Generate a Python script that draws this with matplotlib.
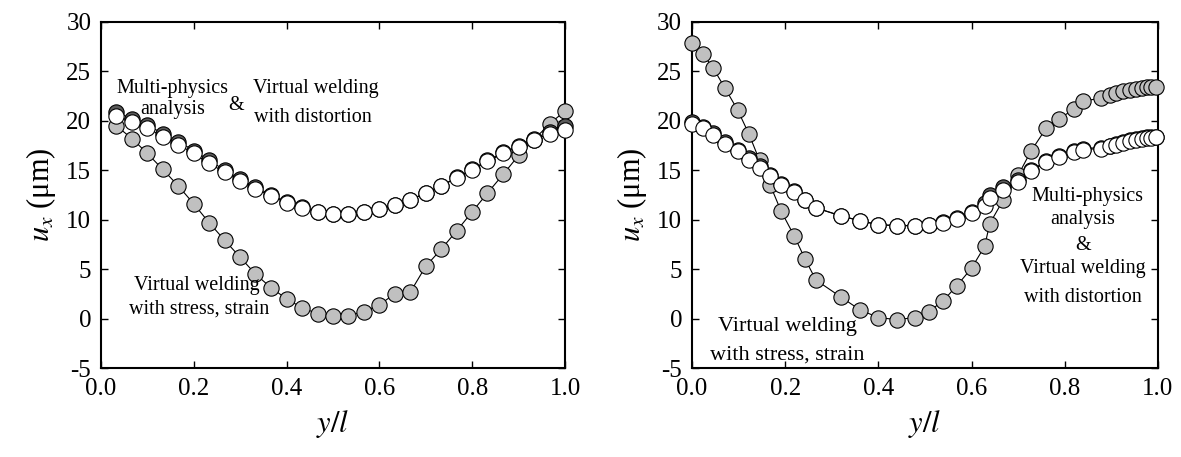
import matplotlib
matplotlib.use('Agg')
import matplotlib.pyplot as plt
from matplotlib.ticker import MultipleLocator, FormatStrFormatter

plt.rcParams['font.family'] = ['Liberation Serif', 'DejaVu Serif']
plt.rcParams['mathtext.fontset'] = 'stix'
plt.rcParams['axes.unicode_minus'] = False

# ---- left panel data (y/l, u_x in um)
left_x = [0.033, 0.067, 0.100, 0.133, 0.167, 0.200, 0.233, 0.267, 0.300, 0.333,
          0.367, 0.400, 0.433, 0.467, 0.500, 0.533, 0.567, 0.600, 0.633, 0.667,
          0.700, 0.733, 0.767, 0.800, 0.833, 0.867, 0.900, 0.933, 0.967, 1.000]
left_stress = [19.5, 18.2, 16.7, 15.1, 13.4, 11.6, 9.7, 7.9, 6.2, 4.5,
               3.1, 2.0, 1.1, 0.5, 0.3, 0.3, 0.7, 1.4, 2.5, 2.7,
               5.3, 7.0, 8.9, 10.8, 12.7, 14.6, 16.5, 18.1, 19.7, 21.0]
left_multi = [20.9, 20.2, 19.6, 18.7, 17.9, 17.0, 16.0, 15.0, 14.1, 13.3,
              12.5, 11.8, 11.3, 10.8, 10.6, 10.6, 10.8, 11.1, 11.5, 12.0,
              12.7, 13.4, 14.3, 15.1, 16.0, 16.8, 17.5, 18.2, 18.9, 19.5]
left_distort = [20.5, 19.9, 19.3, 18.4, 17.6, 16.7, 15.7, 14.8, 13.9, 13.1,
                12.4, 11.7, 11.2, 10.8, 10.6, 10.6, 10.8, 11.05, 11.5, 12.0,
                12.7, 13.4, 14.25, 15.0, 15.9, 16.7, 17.4, 18.1, 18.7, 19.1]

# ---- right panel data
right_x = [0.000, 0.023, 0.046, 0.071, 0.098, 0.122, 0.145, 0.168, 0.191, 0.219,
           0.243, 0.266, 0.319, 0.360, 0.400, 0.439, 0.479, 0.508, 0.539, 0.568,
           0.600, 0.628, 0.639, 0.668, 0.700, 0.727, 0.760, 0.788, 0.820, 0.840,
           0.878, 0.898, 0.911, 0.926, 0.940, 0.953, 0.965, 0.977, 0.986, 0.995]
right_stress = [27.9, 26.8, 25.3, 23.3, 21.1, 18.7, 16.0, 13.5, 10.9, 8.4,
                6.0, 3.9, 2.2, 0.9, 0.1, -0.1, 0.1, 0.7, 1.8, 3.3,
                5.1, 7.3, 9.6, 12.0, 14.5, 16.9, 19.25, 20.2, 21.2, 22.0,
                22.3, 22.6, 22.85, 23.0, 23.1, 23.2, 23.3, 23.4, 23.45, 23.45]
right_multi = [19.9, 19.4, 18.8, 17.9, 17.1, 16.2, 15.4, 14.5, 13.6, 12.9,
               12.0, 11.2, 10.4, 9.9, 9.5, 9.4, 9.4, 9.5, 9.8, 10.2,
               10.8, 11.7, 12.5, 13.3, 14.0, 15.0, 15.9, 16.4, 16.9, 17.2,
               17.3, 17.5, 17.7, 17.9, 18.05, 18.15, 18.25, 18.35, 18.35, 18.4]
right_distort = [19.65, 19.25, 18.6, 17.7, 16.9, 16.0, 15.2, 14.4, 13.5, 12.8,
                 12.0, 11.2, 10.4, 9.9, 9.5, 9.4, 9.4, 9.5, 9.7, 10.1,
                 10.65, 11.4, 12.2, 13.0, 13.85, 14.9, 15.8, 16.3, 16.85, 17.1,
                 17.2, 17.45, 17.6, 17.8, 18.0, 18.1, 18.2, 18.3, 18.3, 18.35]

GRAY = '#c0c0c0'
DARK = '#5a5a5a'


def draw_series(ax, x, y, face, z):
    ax.plot(x, y, color='black', lw=0.8, marker='o', ms=11,
            mfc=face, mec='black', mew=0.8, zorder=z, clip_on=False)


def style_axes(ax):
    ax.set_xlim(0.0, 1.0)
    ax.set_ylim(-5, 30)
    ax.xaxis.set_major_locator(MultipleLocator(0.2))
    ax.xaxis.set_major_formatter(FormatStrFormatter('%.1f'))
    ax.yaxis.set_major_locator(MultipleLocator(5))
    ax.tick_params(direction='in', length=5, width=1, top=True, right=True,
                   labelsize=18, pad=7)
    for sp in ax.spines.values():
        sp.set_linewidth(1.5)
    ax.set_xlabel('$y/l$', fontsize=22, labelpad=6)
    ax.set_ylabel('$u_x$ (μm)', fontsize=22, labelpad=6)


fig = plt.figure(figsize=(11.81, 4.57), dpi=100)
ax1 = fig.add_axes([0.0855, 0.1947, 0.3929, 0.7572])
ax2 = fig.add_axes([0.5859, 0.1947, 0.3946, 0.7572])

draw_series(ax1, left_x, left_stress, GRAY, 3)
draw_series(ax1, left_x, left_multi, DARK, 4)
draw_series(ax1, left_x, left_distort, 'white', 5)

draw_series(ax2, right_x, right_stress, GRAY, 3)
draw_series(ax2, right_x, right_multi, DARK, 4)
draw_series(ax2, right_x, right_distort, 'white', 5)

style_axes(ax1)
style_axes(ax2)

fs = 14.5
ax1.text(0.154, 23.3, 'Multi-physics', fontsize=fs, ha='center', va='center', zorder=6)
ax1.text(0.154, 21.1, 'analysis', fontsize=fs, ha='center', va='center', zorder=6)
ax1.text(0.292, 21.6, '&', fontsize=fs, ha='center', va='center', zorder=6)
ax1.text(0.464, 23.3, 'Virtual welding', fontsize=fs, ha='center', va='center', zorder=6)
ax1.text(0.456, 20.3, 'with distortion', fontsize=fs, ha='center', va='center', zorder=6)
ax1.text(0.206, 3.3, 'Virtual welding', fontsize=fs, ha='center', va='center', zorder=6)
ax1.text(0.212, 0.97, 'with stress, strain', fontsize=fs, ha='center', va='center', zorder=6)

ax2.text(0.848, 12.3, 'Multi-physics', fontsize=fs, ha='center', va='center', zorder=6)
ax2.text(0.839, 10.0, 'analysis', fontsize=fs, ha='center', va='center', zorder=6)
ax2.text(0.839, 7.4, '&', fontsize=fs, ha='center', va='center', zorder=6)
ax2.text(0.839, 5.1, 'Virtual welding', fontsize=fs, ha='center', va='center', zorder=6)
ax2.text(0.839, 2.1, 'with distortion', fontsize=fs, ha='center', va='center', zorder=6)
ax2.text(0.204, -0.85, 'Virtual welding', fontsize=16, ha='center', va='center', zorder=6)
ax2.text(0.204, -3.7, 'with stress, strain', fontsize=16, ha='center', va='center', zorder=6)

fig.savefig('out.png', dpi=100)
